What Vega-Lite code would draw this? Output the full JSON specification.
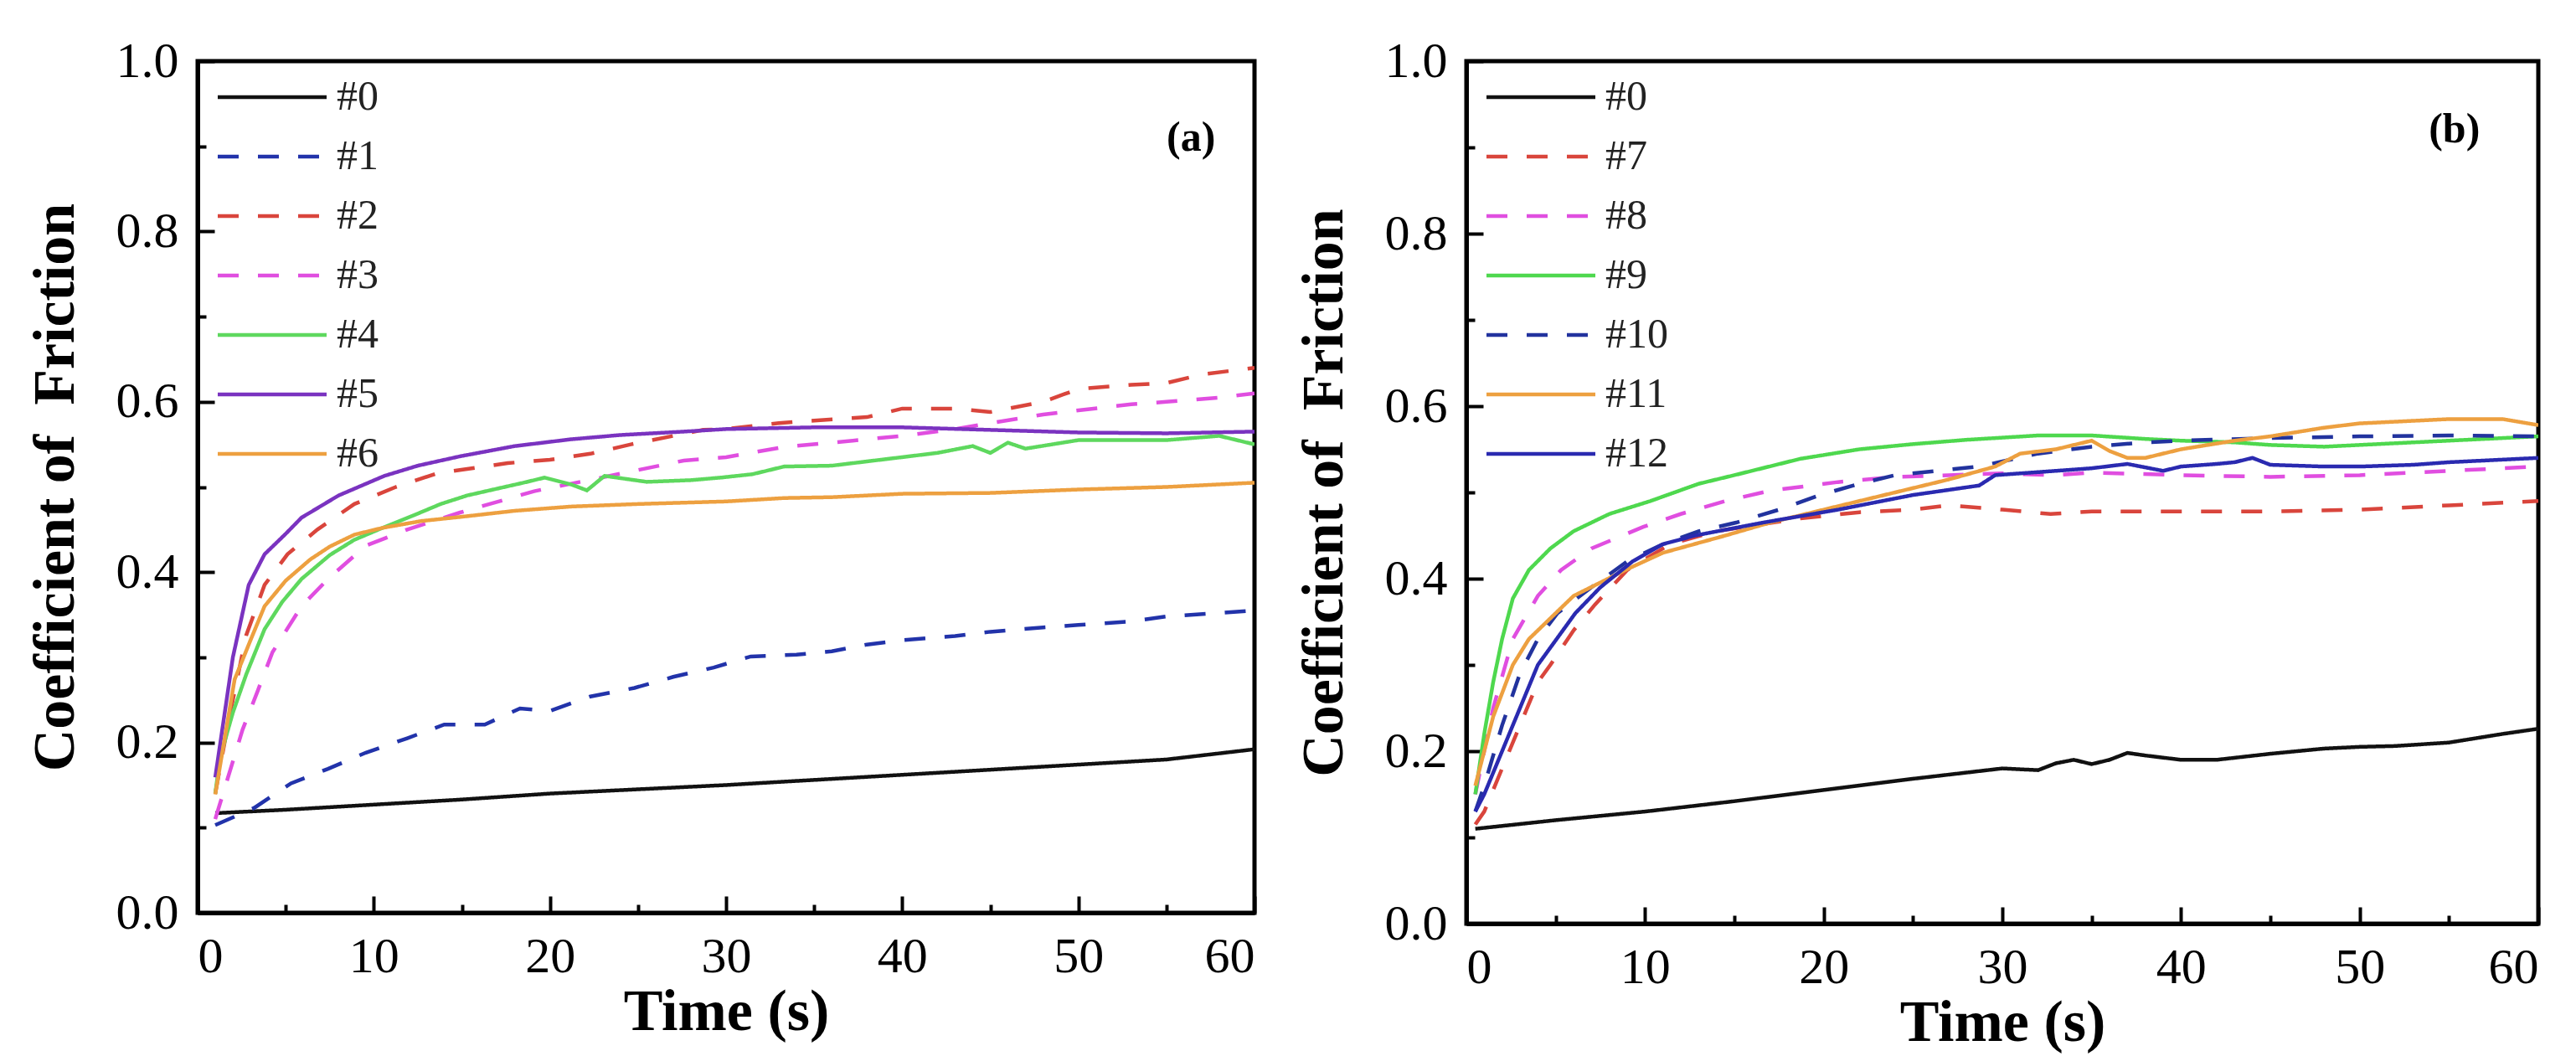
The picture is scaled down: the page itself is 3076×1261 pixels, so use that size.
{
  "$schema": "https://vega.github.io/schema/vega-lite/v6.json",
  "padding": {"left": 28, "top": 40, "right": 5, "bottom": 0},
  "background": "white",
  "datasets": {
    "a": [
      {"s": "#0", "t": 1, "f": 0.117}, {"s": "#0", "t": 5, "f": 0.121}, {"s": "#0", "t": 10, "f": 0.127}, {"s": "#0", "t": 15, "f": 0.133},
      {"s": "#0", "t": 20, "f": 0.14}, {"s": "#0", "t": 25, "f": 0.145}, {"s": "#0", "t": 30, "f": 0.15}, {"s": "#0", "t": 33.3, "f": 0.154},
      {"s": "#0", "t": 35, "f": 0.156}, {"s": "#0", "t": 40, "f": 0.162}, {"s": "#0", "t": 45, "f": 0.168}, {"s": "#0", "t": 50, "f": 0.174},
      {"s": "#0", "t": 55, "f": 0.18}, {"s": "#0", "t": 60, "f": 0.192},

      {"s": "#1", "t": 1, "f": 0.103}, {"s": "#1", "t": 3.2, "f": 0.123}, {"s": "#1", "t": 5.3, "f": 0.152}, {"s": "#1", "t": 7.4, "f": 0.169},
      {"s": "#1", "t": 9.55, "f": 0.188}, {"s": "#1", "t": 11.9, "f": 0.205}, {"s": "#1", "t": 14, "f": 0.221}, {"s": "#1", "t": 16.3, "f": 0.221},
      {"s": "#1", "t": 18.3, "f": 0.24}, {"s": "#1", "t": 20, "f": 0.237}, {"s": "#1", "t": 22.3, "f": 0.254}, {"s": "#1", "t": 24.8, "f": 0.264},
      {"s": "#1", "t": 27, "f": 0.277}, {"s": "#1", "t": 29.3, "f": 0.288}, {"s": "#1", "t": 31.4, "f": 0.301}, {"s": "#1", "t": 34, "f": 0.303},
      {"s": "#1", "t": 36, "f": 0.307}, {"s": "#1", "t": 38, "f": 0.315}, {"s": "#1", "t": 40, "f": 0.32}, {"s": "#1", "t": 43, "f": 0.325},
      {"s": "#1", "t": 45, "f": 0.33}, {"s": "#1", "t": 48, "f": 0.335}, {"s": "#1", "t": 50, "f": 0.338}, {"s": "#1", "t": 53, "f": 0.342},
      {"s": "#1", "t": 55, "f": 0.348}, {"s": "#1", "t": 58, "f": 0.352}, {"s": "#1", "t": 60, "f": 0.355},

      {"s": "#2", "t": 1, "f": 0.14}, {"s": "#2", "t": 1.8, "f": 0.23}, {"s": "#2", "t": 2.76, "f": 0.326}, {"s": "#2", "t": 3.8, "f": 0.385},
      {"s": "#2", "t": 5.1, "f": 0.421}, {"s": "#2", "t": 6.8, "f": 0.45}, {"s": "#2", "t": 8.9, "f": 0.48}, {"s": "#2", "t": 11.25, "f": 0.5},
      {"s": "#2", "t": 13.6, "f": 0.516}, {"s": "#2", "t": 17.6, "f": 0.528}, {"s": "#2", "t": 20, "f": 0.532}, {"s": "#2", "t": 22.3, "f": 0.539},
      {"s": "#2", "t": 24.6, "f": 0.55}, {"s": "#2", "t": 27, "f": 0.56}, {"s": "#2", "t": 28.7, "f": 0.567}, {"s": "#2", "t": 30, "f": 0.568},
      {"s": "#2", "t": 33, "f": 0.575}, {"s": "#2", "t": 35, "f": 0.578}, {"s": "#2", "t": 38, "f": 0.582}, {"s": "#2", "t": 40, "f": 0.592},
      {"s": "#2", "t": 43, "f": 0.592}, {"s": "#2", "t": 45, "f": 0.588}, {"s": "#2", "t": 48, "f": 0.6}, {"s": "#2", "t": 50, "f": 0.615},
      {"s": "#2", "t": 53, "f": 0.62}, {"s": "#2", "t": 55, "f": 0.622}, {"s": "#2", "t": 57, "f": 0.632}, {"s": "#2", "t": 60, "f": 0.64},

      {"s": "#3", "t": 1, "f": 0.11}, {"s": "#3", "t": 2.55, "f": 0.215}, {"s": "#3", "t": 3.4, "f": 0.26}, {"s": "#3", "t": 4.25, "f": 0.306},
      {"s": "#3", "t": 5.9, "f": 0.36}, {"s": "#3", "t": 7.4, "f": 0.392}, {"s": "#3", "t": 9.55, "f": 0.431}, {"s": "#3", "t": 11.9, "f": 0.45},
      {"s": "#3", "t": 14.9, "f": 0.47}, {"s": "#3", "t": 19.1, "f": 0.495}, {"s": "#3", "t": 23.4, "f": 0.513}, {"s": "#3", "t": 27.6, "f": 0.531},
      {"s": "#3", "t": 30, "f": 0.535}, {"s": "#3", "t": 33.3, "f": 0.547}, {"s": "#3", "t": 36, "f": 0.552}, {"s": "#3", "t": 40, "f": 0.56},
      {"s": "#3", "t": 43, "f": 0.568}, {"s": "#3", "t": 45, "f": 0.575}, {"s": "#3", "t": 48, "f": 0.585}, {"s": "#3", "t": 50, "f": 0.59},
      {"s": "#3", "t": 53, "f": 0.597}, {"s": "#3", "t": 55, "f": 0.6}, {"s": "#3", "t": 58, "f": 0.605}, {"s": "#3", "t": 60, "f": 0.61},

      {"s": "#4", "t": 1, "f": 0.14}, {"s": "#4", "t": 1.27, "f": 0.182}, {"s": "#4", "t": 2, "f": 0.235}, {"s": "#4", "t": 2.76, "f": 0.28},
      {"s": "#4", "t": 3.8, "f": 0.333}, {"s": "#4", "t": 4.8, "f": 0.365}, {"s": "#4", "t": 5.9, "f": 0.392}, {"s": "#4", "t": 7.5, "f": 0.42},
      {"s": "#4", "t": 8.9, "f": 0.438}, {"s": "#4", "t": 10.5, "f": 0.452}, {"s": "#4", "t": 12.3, "f": 0.467}, {"s": "#4", "t": 13.8, "f": 0.48},
      {"s": "#4", "t": 15.3, "f": 0.49}, {"s": "#4", "t": 17, "f": 0.498}, {"s": "#4", "t": 18.5, "f": 0.505}, {"s": "#4", "t": 19.7, "f": 0.511},
      {"s": "#4", "t": 21.2, "f": 0.503}, {"s": "#4", "t": 22.1, "f": 0.496}, {"s": "#4", "t": 23.1, "f": 0.513}, {"s": "#4", "t": 25.5, "f": 0.506},
      {"s": "#4", "t": 28, "f": 0.508}, {"s": "#4", "t": 29.7, "f": 0.511}, {"s": "#4", "t": 31.5, "f": 0.515}, {"s": "#4", "t": 33.3, "f": 0.524},
      {"s": "#4", "t": 36, "f": 0.525}, {"s": "#4", "t": 38, "f": 0.53}, {"s": "#4", "t": 40, "f": 0.535}, {"s": "#4", "t": 42, "f": 0.54},
      {"s": "#4", "t": 44, "f": 0.548}, {"s": "#4", "t": 45, "f": 0.54}, {"s": "#4", "t": 46, "f": 0.552}, {"s": "#4", "t": 47, "f": 0.545},
      {"s": "#4", "t": 50, "f": 0.555}, {"s": "#4", "t": 53, "f": 0.555}, {"s": "#4", "t": 55, "f": 0.555}, {"s": "#4", "t": 58, "f": 0.56},
      {"s": "#4", "t": 60, "f": 0.55},

      {"s": "#5", "t": 1, "f": 0.159}, {"s": "#5", "t": 2, "f": 0.3}, {"s": "#5", "t": 2.9, "f": 0.385}, {"s": "#5", "t": 3.8, "f": 0.421},
      {"s": "#5", "t": 5, "f": 0.445}, {"s": "#5", "t": 5.9, "f": 0.464}, {"s": "#5", "t": 8, "f": 0.49}, {"s": "#5", "t": 10.6, "f": 0.513},
      {"s": "#5", "t": 12.5, "f": 0.525}, {"s": "#5", "t": 14.9, "f": 0.536}, {"s": "#5", "t": 18, "f": 0.548}, {"s": "#5", "t": 21.2, "f": 0.556},
      {"s": "#5", "t": 24, "f": 0.561}, {"s": "#5", "t": 27.6, "f": 0.565}, {"s": "#5", "t": 30, "f": 0.568}, {"s": "#5", "t": 35, "f": 0.57},
      {"s": "#5", "t": 40, "f": 0.57}, {"s": "#5", "t": 45, "f": 0.567}, {"s": "#5", "t": 50, "f": 0.564}, {"s": "#5", "t": 55, "f": 0.563},
      {"s": "#5", "t": 60, "f": 0.565},

      {"s": "#6", "t": 1, "f": 0.139}, {"s": "#6", "t": 2.1, "f": 0.274}, {"s": "#6", "t": 3, "f": 0.32}, {"s": "#6", "t": 3.8, "f": 0.36},
      {"s": "#6", "t": 5, "f": 0.39}, {"s": "#6", "t": 6.4, "f": 0.415}, {"s": "#6", "t": 7.5, "f": 0.43}, {"s": "#6", "t": 8.9, "f": 0.444},
      {"s": "#6", "t": 10.5, "f": 0.452}, {"s": "#6", "t": 12.7, "f": 0.46}, {"s": "#6", "t": 15, "f": 0.465}, {"s": "#6", "t": 18, "f": 0.472},
      {"s": "#6", "t": 21.2, "f": 0.477}, {"s": "#6", "t": 25, "f": 0.48}, {"s": "#6", "t": 30, "f": 0.483}, {"s": "#6", "t": 33.3, "f": 0.487},
      {"s": "#6", "t": 36, "f": 0.488}, {"s": "#6", "t": 40, "f": 0.492}, {"s": "#6", "t": 45, "f": 0.493}, {"s": "#6", "t": 50, "f": 0.497},
      {"s": "#6", "t": 55, "f": 0.5}, {"s": "#6", "t": 60, "f": 0.505}
    ],
    "b": [
      {"s": "#0", "t": 0.5, "f": 0.11}, {"s": "#0", "t": 5, "f": 0.12}, {"s": "#0", "t": 10, "f": 0.13}, {"s": "#0", "t": 15, "f": 0.142},
      {"s": "#0", "t": 20, "f": 0.155}, {"s": "#0", "t": 25, "f": 0.168}, {"s": "#0", "t": 30, "f": 0.18}, {"s": "#0", "t": 32, "f": 0.178},
      {"s": "#0", "t": 33, "f": 0.186}, {"s": "#0", "t": 34, "f": 0.19}, {"s": "#0", "t": 35, "f": 0.185}, {"s": "#0", "t": 36, "f": 0.19},
      {"s": "#0", "t": 37, "f": 0.198}, {"s": "#0", "t": 38, "f": 0.195}, {"s": "#0", "t": 40, "f": 0.19}, {"s": "#0", "t": 42, "f": 0.19},
      {"s": "#0", "t": 45, "f": 0.197}, {"s": "#0", "t": 48, "f": 0.203}, {"s": "#0", "t": 50, "f": 0.205}, {"s": "#0", "t": 52, "f": 0.206},
      {"s": "#0", "t": 55, "f": 0.21}, {"s": "#0", "t": 58, "f": 0.22}, {"s": "#0", "t": 60, "f": 0.226},

      {"s": "#7", "t": 0.5, "f": 0.115}, {"s": "#7", "t": 1, "f": 0.13}, {"s": "#7", "t": 2, "f": 0.18}, {"s": "#7", "t": 3, "f": 0.23},
      {"s": "#7", "t": 4, "f": 0.28}, {"s": "#7", "t": 4.7, "f": 0.3}, {"s": "#7", "t": 6, "f": 0.34}, {"s": "#7", "t": 7.2, "f": 0.37},
      {"s": "#7", "t": 9, "f": 0.41}, {"s": "#7", "t": 11.4, "f": 0.44}, {"s": "#7", "t": 14, "f": 0.455}, {"s": "#7", "t": 18.7, "f": 0.47},
      {"s": "#7", "t": 22, "f": 0.477}, {"s": "#7", "t": 25, "f": 0.48}, {"s": "#7", "t": 27, "f": 0.485}, {"s": "#7", "t": 30, "f": 0.48},
      {"s": "#7", "t": 32.7, "f": 0.475}, {"s": "#7", "t": 35, "f": 0.478}, {"s": "#7", "t": 40, "f": 0.478}, {"s": "#7", "t": 45, "f": 0.478},
      {"s": "#7", "t": 50, "f": 0.48}, {"s": "#7", "t": 55, "f": 0.485}, {"s": "#7", "t": 60, "f": 0.49},

      {"s": "#8", "t": 0.5, "f": 0.15}, {"s": "#8", "t": 1, "f": 0.2}, {"s": "#8", "t": 1.5, "f": 0.25}, {"s": "#8", "t": 2.6, "f": 0.33},
      {"s": "#8", "t": 4, "f": 0.38}, {"s": "#8", "t": 5.3, "f": 0.41}, {"s": "#8", "t": 7, "f": 0.435}, {"s": "#8", "t": 9.9, "f": 0.46},
      {"s": "#8", "t": 12, "f": 0.475}, {"s": "#8", "t": 14.5, "f": 0.49}, {"s": "#8", "t": 17, "f": 0.502}, {"s": "#8", "t": 20.8, "f": 0.512},
      {"s": "#8", "t": 24, "f": 0.518}, {"s": "#8", "t": 27, "f": 0.52}, {"s": "#8", "t": 30, "f": 0.522}, {"s": "#8", "t": 33, "f": 0.52},
      {"s": "#8", "t": 35, "f": 0.523}, {"s": "#8", "t": 40, "f": 0.52}, {"s": "#8", "t": 45, "f": 0.518}, {"s": "#8", "t": 50, "f": 0.52},
      {"s": "#8", "t": 55, "f": 0.525}, {"s": "#8", "t": 60, "f": 0.53},

      {"s": "#9", "t": 0.5, "f": 0.15}, {"s": "#9", "t": 1, "f": 0.22}, {"s": "#9", "t": 1.5, "f": 0.28}, {"s": "#9", "t": 2, "f": 0.33},
      {"s": "#9", "t": 2.6, "f": 0.377}, {"s": "#9", "t": 3.5, "f": 0.41}, {"s": "#9", "t": 4.7, "f": 0.435}, {"s": "#9", "t": 6, "f": 0.455},
      {"s": "#9", "t": 8, "f": 0.475}, {"s": "#9", "t": 10.3, "f": 0.49}, {"s": "#9", "t": 13, "f": 0.51}, {"s": "#9", "t": 15, "f": 0.52},
      {"s": "#9", "t": 18.7, "f": 0.539}, {"s": "#9", "t": 22, "f": 0.55}, {"s": "#9", "t": 25, "f": 0.556}, {"s": "#9", "t": 28, "f": 0.561},
      {"s": "#9", "t": 32, "f": 0.566}, {"s": "#9", "t": 35, "f": 0.566}, {"s": "#9", "t": 38, "f": 0.562}, {"s": "#9", "t": 40, "f": 0.56},
      {"s": "#9", "t": 43, "f": 0.558}, {"s": "#9", "t": 45, "f": 0.555}, {"s": "#9", "t": 48, "f": 0.553}, {"s": "#9", "t": 50, "f": 0.555},
      {"s": "#9", "t": 55, "f": 0.56}, {"s": "#9", "t": 60, "f": 0.565},

      {"s": "#10", "t": 0.5, "f": 0.13}, {"s": "#10", "t": 1, "f": 0.16}, {"s": "#10", "t": 2, "f": 0.23}, {"s": "#10", "t": 3, "f": 0.29},
      {"s": "#10", "t": 4, "f": 0.33}, {"s": "#10", "t": 5.1, "f": 0.36}, {"s": "#10", "t": 7, "f": 0.39}, {"s": "#10", "t": 9, "f": 0.42},
      {"s": "#10", "t": 11, "f": 0.44}, {"s": "#10", "t": 13, "f": 0.455}, {"s": "#10", "t": 15.1, "f": 0.465}, {"s": "#10", "t": 17.5, "f": 0.48},
      {"s": "#10", "t": 19.8, "f": 0.497}, {"s": "#10", "t": 22, "f": 0.51}, {"s": "#10", "t": 24, "f": 0.52}, {"s": "#10", "t": 28.7, "f": 0.53},
      {"s": "#10", "t": 32, "f": 0.545}, {"s": "#10", "t": 35, "f": 0.553}, {"s": "#10", "t": 38, "f": 0.558}, {"s": "#10", "t": 40, "f": 0.56},
      {"s": "#10", "t": 45, "f": 0.563}, {"s": "#10", "t": 50, "f": 0.565}, {"s": "#10", "t": 55, "f": 0.566}, {"s": "#10", "t": 60, "f": 0.565},

      {"s": "#11", "t": 0.5, "f": 0.16}, {"s": "#11", "t": 1, "f": 0.2}, {"s": "#11", "t": 1.5, "f": 0.24}, {"s": "#11", "t": 2.6, "f": 0.3},
      {"s": "#11", "t": 3.5, "f": 0.33}, {"s": "#11", "t": 4.5, "f": 0.35}, {"s": "#11", "t": 6, "f": 0.38}, {"s": "#11", "t": 8.9, "f": 0.41},
      {"s": "#11", "t": 11, "f": 0.43}, {"s": "#11", "t": 14.5, "f": 0.45}, {"s": "#11", "t": 17, "f": 0.465}, {"s": "#11", "t": 20.8, "f": 0.484},
      {"s": "#11", "t": 24, "f": 0.5}, {"s": "#11", "t": 27, "f": 0.515}, {"s": "#11", "t": 29.6, "f": 0.53}, {"s": "#11", "t": 31, "f": 0.545},
      {"s": "#11", "t": 33, "f": 0.55}, {"s": "#11", "t": 35, "f": 0.56}, {"s": "#11", "t": 36, "f": 0.548}, {"s": "#11", "t": 37, "f": 0.54},
      {"s": "#11", "t": 38, "f": 0.54}, {"s": "#11", "t": 40, "f": 0.55}, {"s": "#11", "t": 43, "f": 0.56}, {"s": "#11", "t": 45, "f": 0.565},
      {"s": "#11", "t": 48, "f": 0.575}, {"s": "#11", "t": 50, "f": 0.58}, {"s": "#11", "t": 53, "f": 0.583}, {"s": "#11", "t": 55, "f": 0.585},
      {"s": "#11", "t": 58, "f": 0.585}, {"s": "#11", "t": 60, "f": 0.578},

      {"s": "#12", "t": 0.5, "f": 0.13}, {"s": "#12", "t": 1, "f": 0.15}, {"s": "#12", "t": 2, "f": 0.2}, {"s": "#12", "t": 3, "f": 0.25},
      {"s": "#12", "t": 4, "f": 0.3}, {"s": "#12", "t": 6.1, "f": 0.36}, {"s": "#12", "t": 7.5, "f": 0.39}, {"s": "#12", "t": 9.3, "f": 0.42},
      {"s": "#12", "t": 11, "f": 0.44}, {"s": "#12", "t": 12.8, "f": 0.45}, {"s": "#12", "t": 16.6, "f": 0.465}, {"s": "#12", "t": 20.8, "f": 0.48},
      {"s": "#12", "t": 25, "f": 0.497}, {"s": "#12", "t": 28.7, "f": 0.508}, {"s": "#12", "t": 29.6, "f": 0.52}, {"s": "#12", "t": 33, "f": 0.525},
      {"s": "#12", "t": 35, "f": 0.528}, {"s": "#12", "t": 37, "f": 0.533}, {"s": "#12", "t": 39, "f": 0.525}, {"s": "#12", "t": 40, "f": 0.53},
      {"s": "#12", "t": 42, "f": 0.533}, {"s": "#12", "t": 43, "f": 0.535}, {"s": "#12", "t": 44, "f": 0.54}, {"s": "#12", "t": 45, "f": 0.532},
      {"s": "#12", "t": 48, "f": 0.53}, {"s": "#12", "t": 50, "f": 0.53}, {"s": "#12", "t": 53, "f": 0.532}, {"s": "#12", "t": 55, "f": 0.535},
      {"s": "#12", "t": 58, "f": 0.538}, {"s": "#12", "t": 60, "f": 0.54}
    ],
    "tags": [
      {"panel": "a", "t": 56.4, "f": 0.91, "lab": "(a)"},
      {"panel": "b", "t": 55.3, "f": 0.92, "lab": "(b)"}
    ]
  },
  "spacing": 40,
  "resolve": {"scale": {"color": "independent", "strokeDash": "independent"}},
  "hconcat": [
    {
      "width": 1262,
      "height": 1017,
      "encoding": {
        "x": {
          "field": "t", "type": "quantitative", "title": "Time (s)",
          "scale": {"domain": [0, 60], "nice": false},
          "axis": {
            "values": [0, 5, 10, 15, 20, 25, 30, 35, 40, 45, 50, 55, 60],
            "labelExpr": "datum.value % 10 === 0 ? datum.label : ''",
            "tickSize": {"condition": {"test": "datum.value % 10 === 0", "value": -20}, "value": -10},
            "labelPadding": 43, "titlePadding": 2
          }
        },
        "y": {
          "field": "f", "type": "quantitative", "title": "Coefficient of\u00a0 Friction",
          "scale": {"domain": [0, 1], "nice": false},
          "axis": {
            "values": [0, 0.1, 0.2, 0.3, 0.4, 0.5, 0.6, 0.7, 0.8, 0.9, 1.0],
            "format": ".1f",
            "labelExpr": "round(datum.value * 10) % 2 === 0 ? datum.label : ''",
            "tickSize": {"condition": {"test": "round(datum.value * 10) % 2 === 0", "value": -20}, "value": -10},
            "labelPadding": 43, "titlePadding": 36
          }
        }
      },
      "layer": [
        {
          "data": {"name": "a"},
          "mark": {"type": "line", "strokeWidth": 4.5, "clip": true},
          "encoding": {
            "color": {
              "field": "s", "type": "nominal",
              "scale": {
                "domain": ["#0", "#1", "#2", "#3", "#4", "#5", "#6"],
                "range": ["#111111", "#2233aa", "#d9453c", "#e04ee0", "#5ed85e", "#7a33c0", "#eda040"]
              },
              "legend": {"title": null, "orient": "none", "legendX": 64, "legendY": 18}
            },
            "strokeDash": {
              "field": "s", "type": "nominal",
              "scale": {
                "domain": ["#0", "#1", "#2", "#3", "#4", "#5", "#6"],
                "range": [[1, 0], [25, 23], [25, 23], [25, 23], [1, 0], [1, 0], [1, 0]]
              },
              "legend": {"title": null, "orient": "none", "legendX": 64, "legendY": 18}
            }
          }
        },
        {
          "data": {"name": "tags"},
          "transform": [{"filter": "datum.panel === 'a'"}],
          "mark": {"type": "text", "font": "Liberation Serif", "fontSize": 50, "fontWeight": "bold", "color": "black"},
          "encoding": {"text": {"field": "lab"}}
        }
      ]
    },
    {
      "width": 1280,
      "height": 1030,
      "encoding": {
        "x": {
          "field": "t", "type": "quantitative", "title": "Time (s)",
          "scale": {"domain": [0, 60], "nice": false},
          "axis": {
            "values": [0, 5, 10, 15, 20, 25, 30, 35, 40, 45, 50, 55, 60],
            "labelExpr": "datum.value % 10 === 0 ? datum.label : ''",
            "tickSize": {"condition": {"test": "datum.value % 10 === 0", "value": -20}, "value": -10},
            "labelPadding": 43, "titlePadding": 2
          }
        },
        "y": {
          "field": "f", "type": "quantitative", "title": "Coefficient of\u00a0 Friction",
          "scale": {"domain": [0, 1], "nice": false},
          "axis": {
            "values": [0, 0.1, 0.2, 0.3, 0.4, 0.5, 0.6, 0.7, 0.8, 0.9, 1.0],
            "format": ".1f",
            "labelExpr": "round(datum.value * 10) % 2 === 0 ? datum.label : ''",
            "tickSize": {"condition": {"test": "round(datum.value * 10) % 2 === 0", "value": -20}, "value": -10},
            "labelPadding": 43, "titlePadding": 36
          }
        }
      },
      "layer": [
        {
          "data": {"name": "b"},
          "mark": {"type": "line", "strokeWidth": 4.5, "clip": true},
          "encoding": {
            "color": {
              "field": "s", "type": "nominal",
              "scale": {
                "domain": ["#0", "#7", "#8", "#9", "#10", "#11", "#12"],
                "range": ["#111111", "#d9453c", "#e04ee0", "#4ed84e", "#22339e", "#eda040", "#2a2ab0"]
              },
              "legend": {"title": null, "orient": "none", "legendX": 64, "legendY": 18}
            },
            "strokeDash": {
              "field": "s", "type": "nominal",
              "scale": {
                "domain": ["#0", "#7", "#8", "#9", "#10", "#11", "#12"],
                "range": [[1, 0], [25, 23], [25, 23], [1, 0], [25, 23], [1, 0], [1, 0]]
              },
              "legend": {"title": null, "orient": "none", "legendX": 64, "legendY": 18}
            }
          }
        },
        {
          "data": {"name": "tags"},
          "transform": [{"filter": "datum.panel === 'b'"}],
          "mark": {"type": "text", "font": "Liberation Serif", "fontSize": 50, "fontWeight": "bold", "color": "black"},
          "encoding": {"text": {"field": "lab"}}
        }
      ]
    }
  ],
  "config": {
    "font": "Liberation Serif",
    "view": {"stroke": "black", "strokeWidth": 5},
    "axis": {
      "grid": false,
      "domainColor": "black", "domainWidth": 5,
      "tickColor": "black", "tickWidth": 4,
      "labelFont": "Liberation Serif", "labelFontSize": 60, "labelColor": "black",
      "titleFont": "Liberation Serif", "titleFontSize": 70, "titleFontWeight": "bold", "titleColor": "black"
    },
    "legend": {
      "symbolType": "M-6.5,0H6.5", "symbolSize": 400, "symbolStrokeWidth": 4.5,
      "labelFont": "Liberation Serif", "labelFontSize": 50, "labelColor": "#222222",
      "labelOffset": 52, "rowPadding": 21
    }
  }
}
